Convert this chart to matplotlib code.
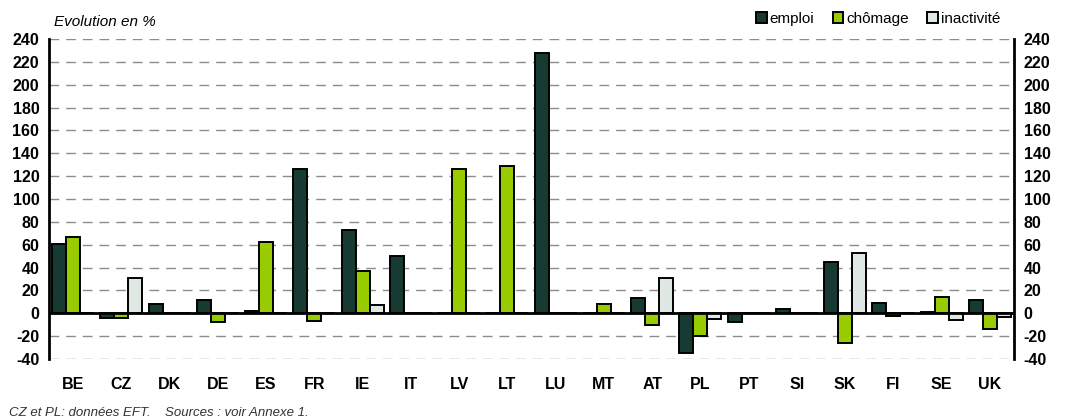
import matplotlib
matplotlib.use("Agg")
import matplotlib.pyplot as plt
import numpy as np

plt.rcParams['font.family'] = ['Liberation Sans', 'DejaVu Sans']
plt.rcParams['axes.unicode_minus'] = False

countries = ["BE", "CZ", "DK", "DE", "ES", "FR", "IE", "IT", "LV", "LT",
             "LU", "MT", "AT", "PL", "PT", "SI", "SK", "FI", "SE", "UK"]
emploi = [61, -4, 8, 12, 2, 126, 73, 50, 0, 0,
          228, 0, 13, -35, -8, 4, 45, 9, 1.5, 12]
chomage = [67, -4, 0, -8, 62, -7, 37, 0, 126, 129,
           0, 8, -10, -20, 0, 0, -26, -2, 14, -14]
inactivite = [0, 31, 0, 0, 0, 0, 7, 0, 0, 0,
              0, 0, 31, -5, 0, 0, 53, 0, -5.5, -3]
series_names = ["emploi", "chômage", "inactivité"]
colors = ["#173b33", "#99cc00", "#e0e8e4"]
yticks = list(range(-40, 241, 20))

fig = plt.figure(figsize=(10.72, 4.18), dpi=100)
ax = fig.add_axes([0.0457, 0.1411, 0.9002, 0.7656])

x = np.arange(len(countries))
w = 0.29
for i, (vals, name, col) in enumerate(zip([emploi, chomage, inactivite], series_names, colors)):
    ax.bar(x + (i - 1) * w, vals, width=w, color=col, edgecolor="black",
           linewidth=1.4, label=name, zorder=3)

ax.set_xlim(-0.5, len(countries) - 0.5)
ax.set_ylim(-40, 240)
ax.set_yticks(yticks)
for t in yticks:
    if t != 0:
        ax.axhline(t, color="#8c8c8c", linewidth=1.0, dashes=(7, 5), zorder=1)
ax.axhline(0, color="black", linewidth=2.0, zorder=4)

for s in ["top", "bottom"]:
    ax.spines[s].set_visible(False)
for s in ["left", "right"]:
    ax.spines[s].set_linewidth(2.0)
    ax.spines[s].set_color("black")

ax.tick_params(axis="y", length=0, labelsize=11.5, pad=7, labelright=True, right=False)
for lab in ax.get_yticklabels():
    lab.set_fontweight("bold")
ax.set_xticks(x)
ax.set_xticklabels(countries, fontsize=11.5, fontweight="bold")
ax.tick_params(axis="x", length=0, pad=13)

fig.text(0.050, 0.947, "Evolution en %", fontsize=11, style="italic", ha="left", va="center")
fig.text(0.008, 0.013, "CZ et PL: données EFT.    Sources : voir Annexe 1.", fontsize=9.5,
         style="italic", ha="left", va="center", color="#333333")

fig.legend(loc="center right", bbox_to_anchor=(0.946, 0.955), ncol=3, frameon=False,
           fontsize=11, handlelength=0.7, handleheight=0.7, handletextpad=0.2,
           columnspacing=1.2)

fig.savefig("out.png", dpi=100)
